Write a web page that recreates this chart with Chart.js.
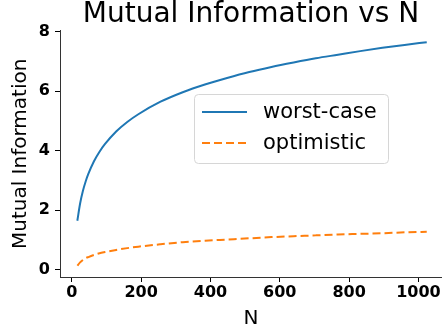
<!DOCTYPE html>
<html>
<head>
<meta charset="utf-8">
<title>Mutual Information vs N</title>
<script src="https://cdn.jsdelivr.net/npm/chart.js@4.4.1/dist/chart.umd.min.js"></script>
<style>
  html, body { margin: 0; padding: 0; background: #fff; }
  #chart { display: block; }
</style>
</head>
<body>
<canvas id="chart" width="442" height="335"></canvas>
<script>
// Values
const nValues = [16, 24, 32, 40, 48, 64, 80, 96, 128, 160, 192, 256, 320, 384, 448, 512, 576, 640, 704, 768, 832, 896, 960, 1024];
const worstCase = [1.65, 2.23, 2.65, 2.97, 3.23, 3.65, 3.97, 4.23, 4.65, 4.97, 5.23, 5.65, 5.97, 6.23, 6.45, 6.65, 6.82, 6.97, 7.11, 7.23, 7.35, 7.46, 7.56, 7.65];
const optimistic = [0.14, 0.25, 0.33, 0.39, 0.43, 0.50, 0.56, 0.60, 0.67, 0.73, 0.78, 0.86, 0.93, 0.98, 1.02, 1.06, 1.10, 1.13, 1.16, 1.19, 1.21, 1.23, 1.26, 1.28];
const xTicks = [0, 200, 400, 600, 800, 1000];
const yTicks = [0, 2, 4, 6, 8];

const FONT = "'DejaVu Sans', sans-serif";
const TITLE = 'Mutual Information vs N';

// Title centred over the plot area (matplotlib style)
const axesTitle = {
  id: 'axesTitle',
  afterDraw(chart) {
    const { ctx, chartArea } = chart;
    ctx.save();
    ctx.font = `28px ${FONT}`;
    ctx.fillStyle = '#000';
    ctx.textAlign = 'center';
    ctx.textBaseline = 'alphabetic';
    ctx.fillText(TITLE, (chartArea.left + chartArea.right) / 2, 22);
    ctx.restore();
  }
};

// Legend drawn inside the plot, like matplotlib's boxed legend
const insideLegend = {
  id: 'insideLegend',
  afterDatasetsDraw(chart) {
    const ctx = chart.ctx;
    const box = { x: 194, y: 94, w: 194, h: 69 };
    ctx.save();
    ctx.beginPath();
    ctx.roundRect(box.x + 0.5, box.y + 0.5, box.w, box.h, 4);
    ctx.fillStyle = 'rgba(255,255,255,0.8)';
    ctx.fill();
    ctx.strokeStyle = '#d6d6d6';
    ctx.lineWidth = 1;
    ctx.stroke();
    ctx.font = `21px ${FONT}`;
    ctx.textBaseline = 'middle';
    chart.data.datasets.forEach((ds, i) => {
      const y = box.y + 18 + i * 31;
      ctx.beginPath();
      ctx.setLineDash(ds.borderDash || []);
      ctx.strokeStyle = ds.borderColor;
      ctx.lineWidth = ds.borderWidth;
      ctx.moveTo(box.x + 8, y);
      ctx.lineTo(box.x + 53, y);
      ctx.stroke();
      ctx.setLineDash([]);
      ctx.fillStyle = '#000';
      ctx.fillText(ds.label, box.x + 69, y + 1);
    });
    ctx.restore();
  }
};

const ctx = document.getElementById('chart').getContext('2d');
new Chart(ctx, {
  type: 'line',
  data: {
    datasets: [
      {
        label: 'worst-case',
        data: nValues.map((n, i) => ({ x: n, y: worstCase[i] })),
        borderColor: '#1f77b4',
        borderWidth: 2,
        pointRadius: 0,
        cubicInterpolationMode: 'monotone',
        fill: false,
      },
      {
        label: 'optimistic',
        data: nValues.map((n, i) => ({ x: n, y: optimistic[i] })),
        borderColor: '#ff7f0e',
        borderWidth: 2,
        borderDash: [8, 4],
        pointRadius: 0,
        cubicInterpolationMode: 'monotone',
        fill: false,
      },
    ],
  },
  options: {
    responsive: false,
    animation: false,
    devicePixelRatio: 1,
    layout: { padding: { top: 30.6, right: 0, bottom: 0, left: 0 } },
    plugins: {
      legend: { display: false },
      tooltip: { enabled: false },
      title: { display: false },
    },
    scales: {
      x: {
        type: 'linear',
        min: -34,
        max: 1068,
        afterBuildTicks: (scale) => { scale.ticks = xTicks.map((v) => ({ value: v })); },
        afterFit: (scale) => { scale.height = 58; },
        grid: { drawOnChartArea: false, drawTicks: true, tickLength: 5, color: '#000' },
        border: { display: true, color: '#333', width: 1 },
        ticks: {
          color: '#000', padding: 1, maxRotation: 0,
          font: { family: FONT, size: 16, weight: 'bold' },
          callback: (v) => String(v),
        },
        title: { display: true, text: 'N', color: '#000', font: { family: FONT, size: 20 }, padding: { top: 0, bottom: 4 } },
      },
      y: {
        type: 'linear',
        min: -0.24,
        max: 8.04,
        afterBuildTicks: (scale) => { scale.ticks = yTicks.map((v) => ({ value: v })); },
        afterFit: (scale) => { scale.width = 60; },
        grid: { drawOnChartArea: false, drawTicks: true, tickLength: 5, color: '#000' },
        border: { display: true, color: '#333', width: 1 },
        ticks: {
          color: '#000', padding: 5,
          font: { family: FONT, size: 16, weight: 'bold' },
          callback: (v) => String(v),
        },
        title: { display: true, text: 'Mutual Information', color: '#000', font: { family: FONT, size: 20 }, padding: { top: 9, bottom: 0 } },
      },
    },
  },
  plugins: [axesTitle, insideLegend],
});
</script>
</body>
</html>
